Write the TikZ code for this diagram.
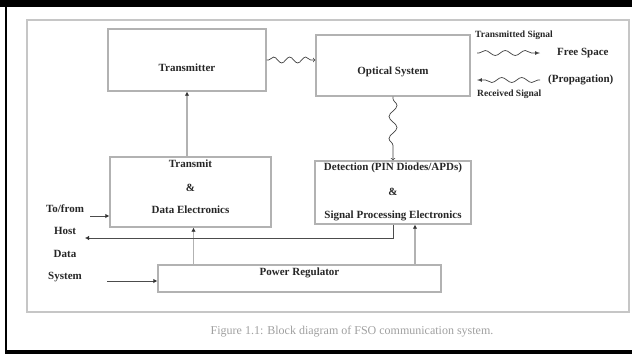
\documentclass[tikz,border=0pt]{standalone}
\usepackage{fontspec}
\setmainfont{Liberation Serif}
\usetikzlibrary{calc,arrows.meta,decorations.pathmorphing}

\begin{document}
\begin{tikzpicture}[x=1pt,y=-1pt,
		blk/.style={draw=gray!60,line width=1.3pt,inner sep=0pt},
		lbl/.style={font=\fontsize{11}{12}\selectfont\bfseries,text=black!85,inner sep=0pt},
		small/.style={font=\fontsize{9.5}{10}\selectfont\bfseries,text=black!85,inner sep=0pt,anchor=west},
		conn/.style={draw=gray!60,line width=1.3pt,-{Latex[black!80,length=4pt,width=4.5pt]}},
		feed/.style={draw=black!70,line width=0.8pt,-{Latex[black!80,length=4pt,width=4.5pt]}},
		wave/.style={draw=black!75,line width=0.7pt,decorate,decoration={snake,amplitude=3pt,segment length=16pt,pre length=2pt,post length=4pt}}]
			\useasboundingbox (0,0) rectangle (632,354);
			
			\fill[black] (0,0) rectangle (632,7);
			\fill[black] (4.5,7) rectangle (6.5,354);
			\fill[black] (4.5,350) rectangle (632,354);
			\draw[gray!45,line width=1.3pt] (27,20) rectangle (629,312);
			
			% blocks
			\node[blk,minimum width=158,minimum height=62] (tx) at (187,60) {};
			\node[blk,minimum width=154,minimum height=61] (opt) at (393,65.5) {};
			\node[blk,minimum width=161,minimum height=70] (tde) at (190.5,192) {};
			\node[blk,minimum width=156,minimum height=63] (det) at (393,192.5) {};
			\node[blk,minimum width=283,minimum height=27] (pwr) at (299.5,278.5) {};
			
			\node[lbl] (txname) at ($(tx.center)+(0,8)$) {Transmitter};
			\node[lbl] (optname) at ($(opt.center)+(0,6.5)$) {Optical System};
			\node[lbl] (tdetop) at (190.5,164) {Transmit};
			\node[lbl] (tdeamp) at (190.5,188) {\&};
			\node[lbl] (tdebot) at (190.5,210) {Data Electronics};
			\node[lbl] (dettop) at (393,168) {Detection (PIN Diodes/APDs)};
			\node[lbl] (detamp) at (393,192) {\&};
			\node[lbl] (detbot) at (393,216) {Signal Processing Electronics};
			\node[lbl] (pwrname) at (299.5,273) {Power Regulator};
			
			\node[lbl] (tofromname) at (65,209) {To/from};
			\node[lbl] (hostname) at (65,231) {Host};
			\node[lbl] (dataname) at (65,254) {Data};
			\node[lbl] (sysname) at (65,277) {System};
			
			% links
			\coordinate (detin) at ($(det.south)+(22,0)$);
			\coordinate (tdein) at ($(tde.south)+(3,0)$);
			\coordinate (host) at (85,238);
			\coordinate (tofrom) at (90,216);
			\coordinate (sys) at (107,281);
			
			\draw[conn] (tde.north -| tx.south) -- (tx.south);
			\draw[conn] (pwr.north -| tdein) -- (tdein);
			\draw[conn] (pwr.north -| detin) -- (detin);
			\draw[feed] (det.south) |- (host);
			\draw[feed] (tofrom) -- (tofrom -| tde.west);
			\draw[feed] (sys) -- (sys -| pwr.west);
			
			\draw[wave,-to] (tx.east) -- (tx.east -| opt.west);
			\draw[wave,-to,decoration={amplitude=4pt,segment length=22pt}] (opt.south) -- (det.north);
			
			% legend
			\coordinate (txa) at (477,53);
			\coordinate (txb) at (540,53);
			\coordinate (rxa) at (540,80);
			\coordinate (rxb) at (477,80);
			\node[small] (txsig) at (475,35) {Transmitted Signal};
			\draw[wave,-latex,decoration={amplitude=2.5pt,segment length=20pt}] (txa) -- (txb);
			\node[lbl,anchor=west] (freesp) at (557,53) {Free Space};
			\draw[wave,-latex,decoration={amplitude=2.5pt,segment length=20pt}] (rxa) -- (rxb);
			\node[lbl,anchor=west] (prop) at (548,80) {(Propagation)};
			\node[small] (rxsig) at (477,94) {Received Signal};
			
			\node[font=\fontsize{12}{13}\selectfont,text=gray!75,inner sep=0pt] (caption) at (352,332) {Figure 1.1: Block diagram of FSO communication system.};
		
		\end{tikzpicture}
\end{document}
